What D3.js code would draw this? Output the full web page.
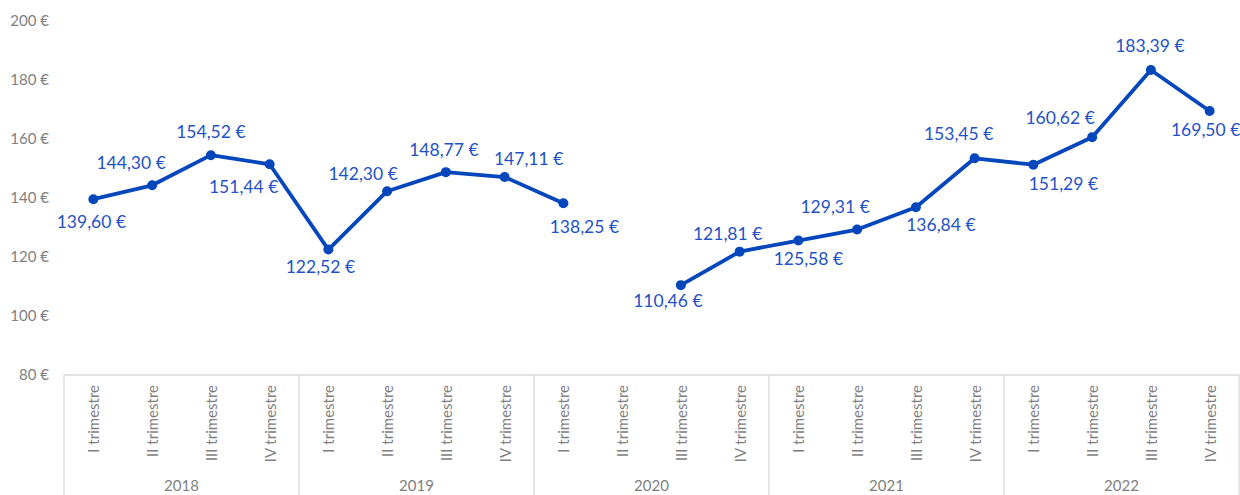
<!DOCTYPE html>
<html><head><meta charset="utf-8">
<script src="https://cdn.jsdelivr.net/npm/d3@7"></script>
<style>body{margin:0;background:#fff}svg{display:block}</style>
</head><body><svg id="c" width="1240" height="495"></svg>
<script>
const years = ["2018","2019","2020","2021","2022"];
const quarters = ["I trimestre","II trimestre","III trimestre","IV trimestre"];
const values = [139.60,144.30,154.52,151.44, 122.52,142.30,148.77,147.11, 138.25,null,110.46,121.81, 125.58,129.31,136.84,153.45, 151.29,160.62,183.39,169.50];
const yTicks = [80,100,120,140,160,180,200];

(function(){
// data label placement (pixel offsets from each point)
const labelOffset = [[-2,23],[-21,-23],[0,-23],[-26,22], [-8,17],[-24,-18],[-2,-22],[24,-18], [21,24],null,[-13,16],[-12,-18], [10,18],[-22,-23],[25,17],[-16,-25], [30,19],[-32,-19],[-1,-24],[-4,19]];
const svg = d3.select("#c");
const mLeft = 64, mRight = 1239, mTop = 21, mBottom = 375;
const keys = d3.range(years.length*quarters.length);
const x = d3.scaleBand().domain(keys).range([mLeft,mRight]);
const y = d3.scaleLinear().domain([80,200]).range([mBottom,mTop]);
const font = "Lato, 'Open Sans', sans-serif";
const axisCol = "#d9d9d9", textCol = "#7f7f7f";
const lineCol = "#0446bb", labelCol = "#1f52c4";

svg.append("g").selectAll("text").data(yTicks).join("text")
  .attr("x", 49).attr("y", d=>y(d)).attr("dy","0.36em")
  .attr("text-anchor","end").attr("font-family",font).attr("font-size",15)
  .attr("fill",textCol).text(d=>d+" €");

svg.append("line").attr("x1",mLeft).attr("x2",mRight).attr("y1",mBottom).attr("y2",mBottom)
  .attr("stroke",axisCol).attr("stroke-width",1.3);
const yearEdges = d3.range(years.length+1).map(i=> i<years.length ? x(i*4) : mRight);
svg.append("g").selectAll("line").data(yearEdges).join("line")
  .attr("x1",d=>d).attr("x2",d=>d).attr("y1",mBottom).attr("y2",495)
  .attr("stroke",axisCol).attr("stroke-width",1.3);
svg.append("g").selectAll("text").data(keys).join("text")
  .attr("transform",d=>`translate(${x(d)+x.bandwidth()/2+6},385) rotate(-90)`)
  .attr("text-anchor","end").attr("font-family",font).attr("font-size",15)
  .attr("fill",textCol).text(d=>quarters[d%4]);
svg.append("g").selectAll("text").data(years).join("text")
  .attr("x",(d,i)=>(x(i*4)+(i<years.length-1?x(i*4+4):mRight))/2).attr("y",491)
  .attr("text-anchor","middle").attr("font-family",font).attr("font-size",15)
  .attr("fill",textCol).text(d=>d);

const cx = i => x(i)+x.bandwidth()/2;
const line = d3.line().defined(d=>d!=null).x((d,i)=>cx(i)).y(d=>y(d));
svg.append("path").datum(values).attr("d",line).attr("fill","none")
  .attr("stroke",lineCol).attr("stroke-width",3.8).attr("stroke-linejoin","round").attr("stroke-linecap","round");
const pts = keys.filter(i=>values[i]!=null);
svg.append("g").selectAll("circle").data(pts).join("circle")
  .attr("cx",cx).attr("cy",i=>y(values[i])).attr("r",5).attr("fill",lineCol);
const fmt = v => v.toFixed(2).replace(".",",")+" €";
svg.append("g").selectAll("text").data(pts).join("text")
  .attr("x",i=>cx(i)+labelOffset[i][0]).attr("y",i=>y(values[i]) + labelOffset[i][1]).attr("dy","0.36em")
  .attr("text-anchor","middle").attr("font-family",font).attr("font-size",17.5)
  .attr("fill",labelCol).text(i=>fmt(values[i]));
})();
</script></body></html>
